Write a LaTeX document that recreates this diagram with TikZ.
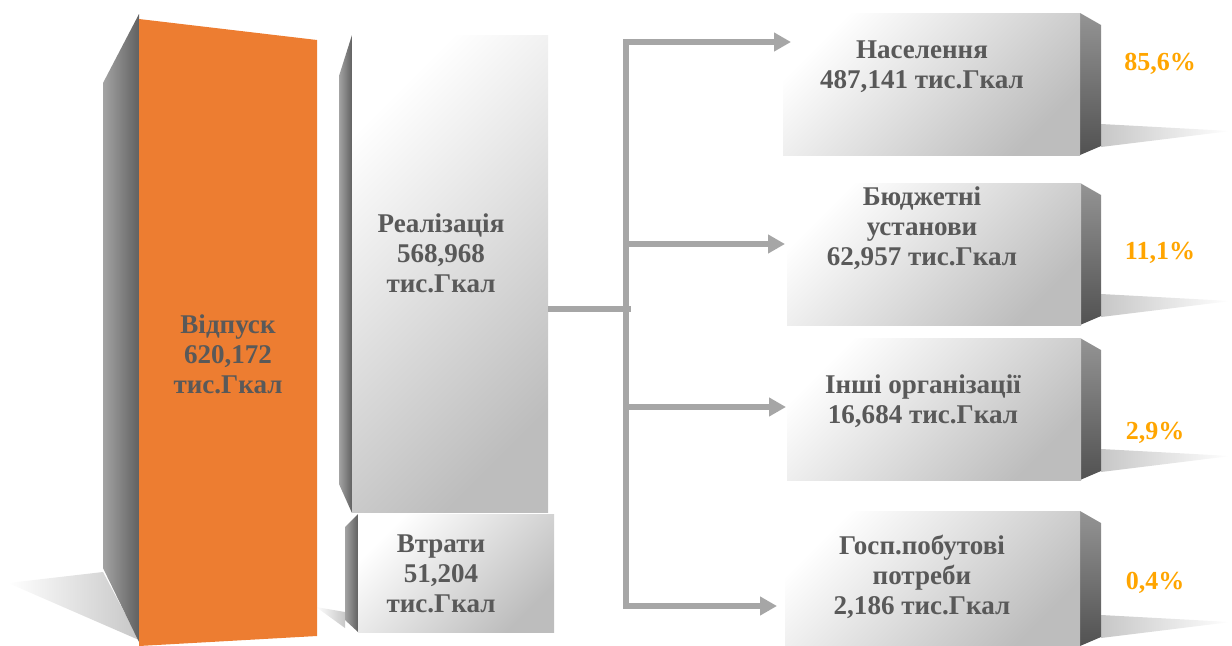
\documentclass[tikz,border=0pt]{standalone}
\usepackage{fontspec}
\setmainfont{Liberation Serif}
\usetikzlibrary{arrows.meta,fit}
\definecolor{txtgray}{HTML}{595959}
\definecolor{boxorange}{HTML}{ED7D31}
\definecolor{pctorange}{HTML}{FFA500}
\definecolor{linegray}{HTML}{A6A6A6}
\tikzset{
  front/.style={inner sep=0pt, draw=none, top color=white, bottom color=black!26, shading angle=45},
  lside/.style={left color=black!36, right color=black!62},
  rside/.style={top color=black!42, bottom color=black!68},
  lshadow/.style={left color=white, right color=black!22},
  rshadow/.style={left color=black!22, right color=white},
  lbl/.style={text=txtgray, font=\bfseries\fontsize{15.4}{17.1}\selectfont, align=center},
  pct/.style={text=pctorange, font=\bfseries\fontsize{14.8}{17}\selectfont},
  conn/.style={draw=linegray, line width=0.12cm},
  tip/.style={-{Triangle[length=0.34cm,width=0.36cm]}}
}

\begin{document}
\begin{tikzpicture}[x=0.02cm, y=-0.02cm]
\useasboundingbox (0,0) rectangle (1232,646);

\shade[lshadow] (8,583) -- (103,572) -- (139,640) -- cycle;
\shade[lshadow] (316,607) -- (345,612) -- (345,628) -- cycle;
\foreach \t/\b in {13/155, 183/325, 338/480, 511/646}
  \shade[rshadow] (1101,\b-31) -- (1231,\b-24) -- (1101,\b-8) -- cycle;

\shade[lside] (103,83) -- (139,14) -- (139,642) -- (103,568) -- cycle;
\fill[boxorange] (139,19) -- (317,40) -- (317,636) -- (139,646) -- cycle;
\node[lbl] (vidpusk) at (228,354) {Відпуск\\620,172\\тис.Гкал};

\shade[lside] (339,76) -- (352,35) -- (352,513) -- (339,484) -- cycle;
\node[front, fit={(352,35) (548,512)}] (realiz) {};
\node[lbl] (realiztxt) at (441,253) {Реалізація\\568,968\\тис.Гкал};

\shade[lside] (345,527) -- (358,514) -- (358,632) -- (345,620) -- cycle;
\node[front, fit={(358,514) (554,632)}] (vtraty) {};
\node[lbl] (vtratytxt) at (441,574) {Втрати\\51,204\\тис.Гкал};

\foreach \l/\t/\b in {783/13/155, 787/183/325, 787/338/480, 785/511/646}
  \shade[rside] (1080,\t) -- (1101,\t+12) -- (1101,\b-9) -- (1080,\b) -- cycle;
\node[front, fit={(783,13) (1080,155)}] (naselennia) {};
\node[front, fit={(787,183) (1081,325)}] (biudzhet) {};
\node[front, fit={(787,338) (1081,480)}] (inshi) {};
\node[front, fit={(785,511) (1080,646)}] (hosp) {};

\node[lbl] (naselenniatxt) at (922,67) {Населення\\487,141 тис.Гкал};
\node[lbl] (biudzhettxt) at (922,228) {Бюджетні\\установи\\62,957 тис.Гкал};
\node[lbl] (inshitxt) at (923,401) {Інші організації\\16,684 тис.Гкал};
\node[lbl] (hosptxt) at (922,577) {Госп.побутові\\потреби\\2,186 тис.Гкал};

\node[pct] (p1) at (1160,64) {85,6\%};
\node[pct] (p2) at (1160,253) {11,1\%};
\node[pct] (p3) at (1155,433) {2,9\%};
\node[pct] (p4) at (1155,583) {0,4\%};

\coordinate (hub) at (626,309);
\coordinate (a1) at (791,42);
\coordinate (a2) at (785,244);
\coordinate (a3) at (786,407);
\coordinate (a4) at (777,606);
\draw[conn] (realiz.east |- hub) -- ([xshift=0.1cm]hub);
\draw[conn, line cap=rect] (hub |- a1) -- (hub |- a4);
\foreach \a in {a1,a2,a3,a4}
  \draw[conn, tip] (hub |- \a) -- (\a);
\end{tikzpicture}
\end{document}
